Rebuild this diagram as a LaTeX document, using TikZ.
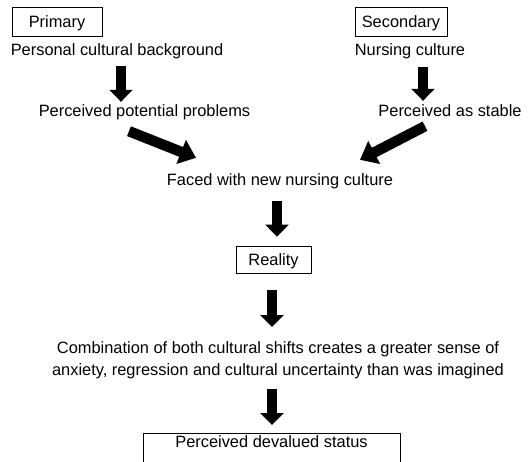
\documentclass[tikz,border=0pt]{standalone}
\usepackage{fontspec}
\setmainfont{Liberation Sans}
\usetikzlibrary{arrows.meta}
\tikzset{
  txt_n/.style = {inner sep=0pt, anchor=base, text height=11.5pt, text depth=3.5pt},
  box_n/.style = {draw=black, line width=0.8pt, inner xsep=0pt, text height=11.5pt, text depth=0pt},
  arr_b/.style = {line width=10pt, -{Triangle[length=12pt, width=23pt]}},
  arr_d/.style = {line width=10.5pt, -{Triangle[length=16pt, width=25pt]}},
}

\begin{document}
\begin{tikzpicture}[
    x=1pt, y=-1pt,
    font=\fontsize{16.4}{22}\selectfont,
]
  \useasboundingbox (0,0) rectangle (532,461);
  \node [box_n, minimum width=90pt, minimum height=29pt] (prim) at (57,21.5) {Primary};
  \node [box_n, minimum width=92pt, minimum height=29pt] (sec) at (401,21.5) {Secondary};
  \node [txt_n] (bg) at (117,55) {Personal cultural background};
  \node [txt_n] (nc) at (410,55) {Nursing culture};
  \node [txt_n] (pp) at (144.5,116) {Perceived potential problems};
  \node [txt_n] (ps) at (450,116) {Perceived as stable};
  \node [txt_n] (faced) at (280,185) {Faced with new nursing culture};
  \node [box_n, minimum width=75pt, minimum height=27pt] (real) at (273.5,259.5) {Reality};
  \node [inner sep=0pt, align=center, anchor=north] (comb) at (278,341.3)
    {Combination of both cultural shifts creates a greater sense of\\
     anxiety, regression and cultural uncertainty than was imagined};
  \node [box_n, anchor=north, minimum width=257pt, inner ysep=3pt, text depth=20pt] (dev) at (271.5,433) {Perceived devalued status};

  \draw [arr_b] ([xshift=4pt,yshift=-7.5pt]bg.south) -- ([xshift=-23.5pt,yshift=2.5pt]pp.north);
  \draw [arr_b] ([xshift=13pt,yshift=-8.5pt]nc.south) -- ([xshift=-27pt,yshift=3.5pt]ps.north);
  \draw [arr_d] ([xshift=-15.5pt,yshift=-11.5pt]pp.south) -- ([xshift=-84pt,yshift=15.5pt]faced.north);
  \draw [arr_d] ([xshift=-25pt,yshift=-6.5pt]ps.south) -- ([xshift=80pt,yshift=13.5pt]faced.north);
  \draw [arr_b] ([xshift=-3pt,yshift=-12.5pt]faced.south) -- ([xshift=3.5pt,yshift=9pt]real.north);
  \draw [arr_b] ([xshift=-1.5pt,yshift=-17pt]real.south) -- ([xshift=-6pt,yshift=14.3pt]comb.north);
  \draw [arr_b] ([xshift=-6pt,yshift=-9.6pt]comb.south) -- ([xshift=0.5pt,yshift=8pt]dev.north);
\end{tikzpicture}
\end{document}
